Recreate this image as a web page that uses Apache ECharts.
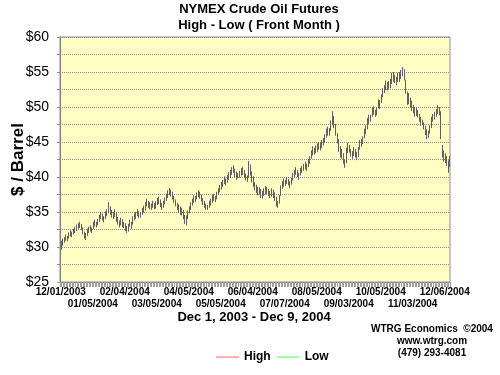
<!DOCTYPE html>
<html>
<head>
<meta charset="utf-8">
<script src="https://cdn.jsdelivr.net/npm/echarts@6/dist/echarts.min.js"></script>
<style>html,body{margin:0;padding:0;background:#fff}#c{width:500px;height:375px}</style>
</head>
<body>
<div id="c"></div>
<script>
// Trading days Dec 1 2003 - Dec 9 2004 (NYMEX closed days excluded)
const startDate = '2003-12-01';
const endDate = '2004-12-09';
const closedDays = ['2003-12-25','2003-12-26','2004-01-01','2004-01-02','2004-01-19','2004-02-16',
  '2004-04-09','2004-05-31','2004-06-11','2004-07-05','2004-09-06','2004-11-25','2004-11-26'];

const titleLines = ['NYMEX Crude Oil Futures', 'High - Low ( Front Month )'];
const xTitle = 'Dec 1, 2003 - Dec 9, 2004';
const credit = ['WTRG Economics  \u00A92004', 'www.wtrg.com', '(479) 293-4081'];
const yTicks = [25, 30, 35, 40, 45, 50, 55, 60];

// Daily high ($/bbl)
const high = [
 30.9,31.2,31.4,31.8,31.6,32.1,32.4,32.2,32.6,32.9,33.2,33.4,33.6,33.3,32.8,32.2,32.0,32.6,32.9,33.1,32.8,
 33.6,33.9,33.6,34.0,34.6,35.0,34.8,34.4,35.1,35.4,36.4,35.8,35.3,35.0,35.4,34.9,34.3,33.8,34.2,34.0,33.6,
 33.4,33.0,33.3,33.9,33.6,34.4,34.8,35.0,35.4,35.1,35.0,35.6,35.9,36.4,36.9,36.6,36.4,36.2,36.6,36.3,36.5,
 37.0,37.2,36.8,36.3,36.6,37.1,37.6,38.1,38.4,38.2,37.9,37.3,36.8,36.3,36.1,35.8,35.6,35.3,34.6,34.5,35.2,
 35.8,36.4,36.9,37.4,37.3,37.8,38.1,37.9,37.5,37.0,36.6,36.2,36.0,36.6,36.9,37.4,37.6,37.3,37.9,38.4,38.9,
 39.3,39.6,40.1,39.8,40.3,40.7,41.0,41.4,41.7,41.2,40.8,40.6,40.9,41.3,41.4,41.0,40.5,40.2,42.3,41.8,40.8,
 40.1,39.3,38.9,38.6,38.5,38.3,38.0,38.4,38.7,38.6,38.3,38.0,38.4,38.2,37.8,37.2,36.6,37.4,38.8,39.4,39.8,
 39.6,40.0,39.7,39.4,39.9,40.6,41.0,41.4,41.0,40.6,41.3,41.6,41.9,42.2,41.9,42.6,43.0,43.8,44.4,44.2,44.5,
 44.8,45.0,44.9,45.3,45.6,46.1,46.9,47.2,47.0,48.1,49.4,48.7,47.6,46.3,45.4,44.4,44.0,43.4,42.5,44.2,44.9,
 44.6,44.0,43.7,44.3,44.0,43.6,44.3,45.3,45.4,45.8,46.9,47.4,48.4,48.9,48.9,49.9,50.1,49.6,49.9,51.1,51.0,
 51.8,52.7,53.1,53.8,53.6,53.7,54.0,54.9,55.0,54.6,54.3,54.9,55.0,55.3,55.7,55.4,53.9,52.2,52.0,51.3,50.9,
 50.3,50.0,49.9,49.6,49.0,48.6,48.2,47.8,47.3,46.8,46.6,47.4,48.6,49.0,49.3,49.7,50.3,50.0,49.4,44.6,43.8,
 43.4,43.0,42.4,43.0
];
// Daily low ($/bbl)
const low = [
 29.6,30.2,30.6,30.9,30.8,31.2,31.5,31.4,31.8,32.0,32.3,32.6,32.7,32.4,31.8,31.2,31.0,31.6,32.0,32.2,32.0,
 32.6,32.9,32.8,33.1,33.6,34.0,33.8,33.5,34.0,34.4,34.8,34.6,34.2,34.0,34.3,33.6,33.2,32.8,33.1,32.8,32.7,
 32.3,32.0,32.2,32.9,32.6,33.2,33.8,34.0,34.4,34.1,34.2,34.6,34.9,35.2,35.8,35.6,35.4,35.3,35.6,35.4,35.5,
 36.0,36.1,35.7,35.3,35.6,36.1,36.6,37.0,37.4,37.2,36.8,36.3,35.8,35.3,34.9,34.6,34.5,34.0,33.3,33.1,34.0,
 34.8,35.3,35.9,36.3,36.4,36.8,37.1,36.9,36.5,36.0,35.6,35.3,35.3,35.6,35.9,36.3,36.6,36.4,36.8,37.4,37.8,
 38.2,38.6,39.0,38.8,39.2,39.6,39.9,40.3,40.6,40.0,39.6,39.8,39.9,40.2,40.3,39.9,39.5,39.3,39.9,40.2,39.2,
 38.6,38.1,37.7,37.4,37.5,37.0,36.9,37.3,37.5,37.6,37.3,37.0,37.2,37.0,36.6,35.8,35.6,36.2,37.3,38.3,38.6,
 38.7,39.0,38.8,38.4,38.9,39.5,39.9,40.3,40.0,39.6,40.2,40.6,40.9,41.1,40.9,41.4,41.9,42.6,43.1,43.2,43.4,
 43.6,43.9,43.8,44.1,44.5,44.9,45.6,45.9,45.9,46.6,47.4,47.0,45.9,44.8,43.6,42.8,42.6,41.9,41.3,42.0,43.4,
 43.5,42.9,42.6,43.0,42.8,42.4,42.9,43.9,44.3,44.7,45.5,46.1,46.8,47.6,47.9,48.6,48.9,48.6,48.8,49.8,49.7,
 50.6,51.4,52.0,52.4,52.4,52.6,52.7,53.3,53.6,53.4,53.1,53.6,53.6,54.0,54.4,53.8,51.9,50.3,50.4,49.9,49.4,
 49.1,48.6,48.7,48.5,47.9,47.3,47.4,46.8,46.0,45.4,45.6,46.2,47.0,47.9,48.2,48.6,49.0,48.8,45.4,42.8,42.2,
 42.0,41.6,40.6,41.4
];

function pad(n){ return (n < 10 ? '0' : '') + n; }
const dates = [];
(function(){
  const d = new Date(startDate + 'T12:00:00Z');
  const end = new Date(endDate + 'T12:00:00Z');
  while (d <= end) {
    const wd = d.getUTCDay();
    const iso = d.getUTCFullYear() + '-' + pad(d.getUTCMonth()+1) + '-' + pad(d.getUTCDate());
    if (wd !== 0 && wd !== 6 && closedDays.indexOf(iso) < 0) {
      dates.push(pad(d.getUTCMonth()+1) + '/' + pad(d.getUTCDate()) + '/' + d.getUTCFullYear());
    }
    d.setUTCDate(d.getUTCDate() + 1);
  }
})();

const FONT = 'Arial, "Liberation Sans", sans-serif';
const chart = echarts.init(document.getElementById('c'), null, {renderer: 'canvas'});

const xLabelStyle = {fontFamily: FONT, fontSize: 10, fontWeight: 'bold', color: '#000',
  showMinLabel: true, showMaxLabel: true, hideOverlap: false};

chart.setOption({
  animation: false,
  backgroundColor: '#ffffff',
  title: {
    text: titleLines.join('\n'),
    left: 259, top: 1, textAlign: 'center', padding: 0,
    textStyle: {fontFamily: FONT, fontSize: 13, fontWeight: 'bold', color: '#000', lineHeight: 16}
  },
  legend: {
    data: [{name: 'High', icon: 'rect'}, {name: 'Low', icon: 'rect'}],
    left: 216, top: 351, padding: 0,
    itemWidth: 23, itemHeight: 1, itemGap: 6,
    textStyle: {fontFamily: FONT, fontSize: 12, fontWeight: 'bold', color: '#000'}
  },
  grid: {
    left: 60, right: 50, top: 37, bottom: 93,
    containLabel: false, outerBoundsMode: 'none',
    show: true, backgroundColor: '#FFFFC4', borderColor: '#8a8aa8', borderWidth: 1
  },
  xAxis: [
    {
      type: 'category', data: dates, boundaryGap: true, position: 'bottom',
      axisLine: {show: true, lineStyle: {color: '#808080', width: 1}},
      axisTick: {show: true, interval: 0, length: 5, lineStyle: {color: '#a0a0a0'}},
      axisLabel: Object.assign({interval: function(i){ return i % 42 === 0; }, margin: 5}, xLabelStyle),
      splitLine: {show: false}
    },
    {
      type: 'category', data: dates, boundaryGap: true, position: 'bottom', offset: 0,
      axisLine: {show: false}, axisTick: {show: false},
      axisLabel: Object.assign({interval: function(i){ return i % 42 === 21; }, margin: 17}, xLabelStyle),
      splitLine: {show: false}
    }
  ],
  yAxis: {
    type: 'value',
    min: 25, max: 60, interval: 2.5,
    name: '$ / Barrel',
    nameLocation: 'middle', nameRotate: 90, nameGap: 33, nameMoveOverlap: false,
    nameTextStyle: {fontFamily: FONT, fontSize: 17, fontWeight: 'bold', color: '#000'},
    axisLine: {show: true, lineStyle: {color: '#808080'}},
    axisTick: {show: true, length: 3, lineStyle: {color: '#909090'}},
    axisLabel: {
      formatter: function(v){ return yTicks.indexOf(v) >= 0 ? '$' + v : ''; },
      fontFamily: FONT, fontSize: 14, color: '#000', margin: 11
    },
    splitLine: {show: true, lineStyle: {color: '#8c8c8c', type: 'dotted', width: 1}}
  },
  graphic: [
    {type: 'text', x: 254, y: 311,
     style: {text: xTitle, font: 'bold 13px ' + FONT, fill: '#000', align: 'center', verticalAlign: 'top'}},
    {type: 'text', x: 432, y: 324,
     style: {text: credit[0], font: 'bold 10px ' + FONT, fill: '#000', align: 'center', verticalAlign: 'top'}},
    {type: 'text', x: 432, y: 336,
     style: {text: credit[1], font: 'bold 10px ' + FONT, fill: '#000', align: 'center', verticalAlign: 'top'}},
    {type: 'text', x: 432, y: 348,
     style: {text: credit[2], font: 'bold 10px ' + FONT, fill: '#000', align: 'center', verticalAlign: 'top'}}
  ],
  series: [
    {
      name: 'High-Low', type: 'custom', xAxisIndex: 0,
      data: dates.map(function(d, i){ return [i, low[i], high[i]]; }),
      encode: {x: 0, y: [1, 2]},
      renderItem: function(params, api){
        const a = api.coord([api.value(0), api.value(1)]);
        const b = api.coord([api.value(0), api.value(2)]);
        const x = Math.round(a[0]) + 0.5;
        return {type: 'line', shape: {x1: x, y1: a[1], x2: x, y2: b[1]},
                style: {stroke: '#606060', lineWidth: 1}};
      },
      z: 3
    },
    {name: 'High', type: 'line', xAxisIndex: 0, data: [], symbol: 'none', itemStyle: {color: '#ff6060'}, lineStyle: {color: '#ff6060', width: 1}},
    {name: 'Low', type: 'line', xAxisIndex: 0, data: [], symbol: 'none', itemStyle: {color: '#40ff40'}, lineStyle: {color: '#40ff40', width: 1}}
  ]
});
</script>
</body>
</html>
